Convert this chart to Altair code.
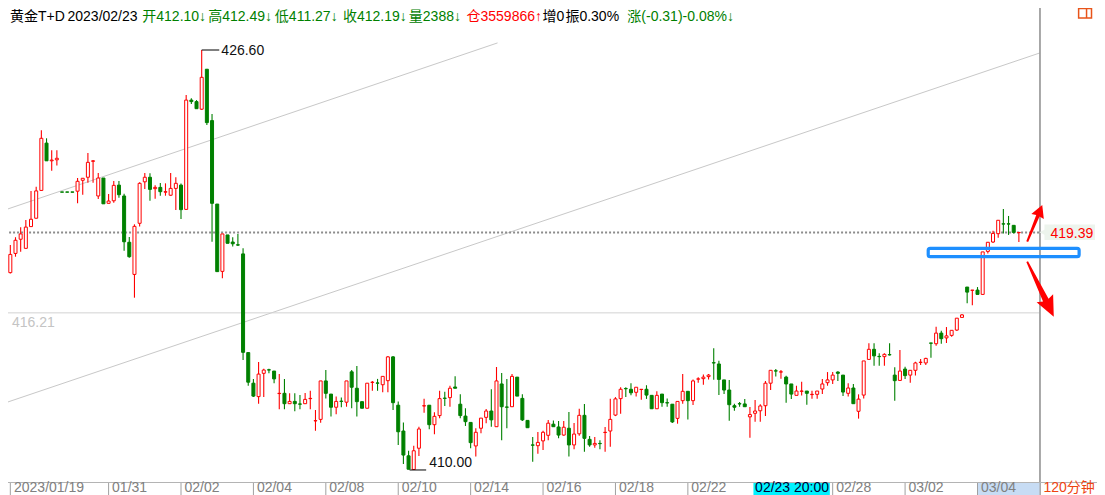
import altair as alt
import numpy as np
import pandas as pd

# ---------------- data ----------------
opens = [417.80, 418.56, 419.12, 418.76, 419.62, 419.95, 421.05, 422.92, 422.22, 422.26,
         420.99, 420.99, 420.99, 421.02, 421.45, 421.57, 422.20, 420.83, 421.54, 420.54,
         420.64, 421.26, 420.83, 419.00, 417.73, 419.75, 421.39, 421.57, 421.12, 421.17,
         420.98, 420.86, 421.13, 421.26, 420.30, 424.62, 424.56, 424.26, 425.84, 423.81,
         420.51, 417.85, 419.29, 419.01, 418.90, 418.54, 414.64, 413.43, 412.90, 413.82,
         413.96, 413.91, 413.02, 413.03, 412.62, 412.71, 412.61, 412.62, 412.82, 411.94,
         412.00, 413.52, 413.00, 412.48, 412.72, 412.68, 413.88, 413.23, 412.70, 412.44,
         413.46, 413.44, 413.37, 413.53, 414.47, 412.56, 411.54, 410.56, 410.02, 410.86,
         412.53, 412.56, 411.79, 412.15, 412.84, 412.86, 413.28, 412.60, 412.13, 411.88,
         410.95, 411.65, 412.08, 412.33, 411.71, 413.40, 412.49, 412.50, 413.67, 412.83,
         411.96, 410.99, 410.96, 411.15, 411.37, 411.81, 411.70, 411.38, 411.65, 410.99,
         411.43, 412.16, 411.21, 410.99, 411.05, 411.48, 411.54, 412.17, 412.82, 413.22,
         413.19, 413.07, 413.18, 413.19, 412.95, 412.42, 413.00, 412.66, 412.60, 412.04,
         412.74, 413.11, 412.74, 413.59, 413.61, 413.69, 414.24, 414.19, 413.56, 413.16,
         412.54, 412.62, 412.61, 412.10, 412.24, 412.34, 412.54, 413.43, 413.92, 413.87,
         413.67, 413.40, 412.95, 413.11, 413.12, 412.98, 412.99, 413.20, 413.45, 413.56,
         413.87, 413.75, 413.03, 413.24, 412.32, 412.96, 414.37, 414.77, 414.49, 414.48,
         414.56, 413.75, 413.54, 413.99, 413.75, 413.94, 414.25, 414.23, 415.02, 414.99,
         415.41, 415.22, 415.32, 415.53, 416.03, 417.23, 417.10, 417.11, 416.94, 418.64,
         419.01, 419.34, 419.73, 419.73, 419.67, 419.38]
highs = [418.89, 419.20, 419.59, 419.88, 421.03, 421.19, 423.43, 423.11, 422.64, 422.64,
         420.99, 420.99, 420.99, 421.54, 421.53, 422.53, 422.25, 421.74, 421.54, 420.91,
         421.42, 421.42, 420.92, 419.21, 419.71, 421.37, 421.74, 421.73, 421.25, 421.34,
         421.33, 421.74, 421.57, 421.32, 424.82, 424.69, 424.62, 426.60, 425.84, 424.07,
         420.51, 419.33, 419.29, 419.20, 419.33, 418.76, 414.64, 413.60, 414.27, 414.00,
         414.00, 413.91, 413.79, 413.60, 413.03, 413.03, 412.96, 413.04, 413.13, 412.37,
         413.52, 413.95, 413.00, 412.90, 412.86, 413.52, 413.95, 414.11, 412.70, 413.43,
         413.52, 413.60, 413.70, 414.51, 414.51, 412.71, 411.88, 410.76, 410.96, 411.71,
         412.82, 412.56, 412.28, 413.13, 413.09, 413.33, 413.70, 412.99, 412.44, 411.88,
         411.65, 412.05, 412.41, 413.19, 414.07, 413.83, 413.60, 413.79, 413.67, 412.99,
         411.96, 411.30, 411.50, 411.55, 411.98, 411.96, 411.94, 411.94, 412.29, 411.86,
         412.42, 412.61, 411.34, 411.30, 411.18, 411.70, 412.82, 412.88, 413.27, 413.27,
         413.43, 413.27, 413.19, 413.35, 412.95, 413.11, 413.00, 412.83, 412.60, 412.71,
         413.79, 413.11, 413.58, 413.67, 413.77, 413.79, 414.81, 414.32, 413.56, 413.56,
         412.62, 412.69, 412.81, 412.49, 412.77, 412.60, 413.52, 413.94, 413.99, 413.95,
         413.72, 413.40, 413.33, 413.49, 413.12, 413.13, 413.12, 413.60, 413.87, 413.87,
         413.90, 413.75, 413.43, 413.40, 412.99, 414.31, 415.01, 415.01, 414.61, 414.61,
         415.01, 414.06, 414.74, 414.08, 413.94, 414.28, 414.39, 414.44, 415.02, 415.66,
         415.50, 415.65, 415.52, 416.00, 416.17, 417.23, 417.11, 417.23, 418.62, 419.00,
         419.46, 419.87, 420.32, 420.04, 419.67, 419.39]
lows = [417.77, 418.43, 418.63, 418.76, 419.62, 419.95, 421.05, 422.22, 421.83, 422.03,
        420.98, 420.98, 420.98, 420.54, 420.88, 421.35, 421.35, 420.71, 420.52, 420.54,
        420.56, 420.76, 418.67, 418.39, 416.81, 419.62, 421.11, 420.64, 420.72, 420.84,
        420.84, 420.84, 420.28, 419.92, 420.30, 424.47, 424.28, 424.23, 423.64, 419.02,
        417.84, 417.58, 418.96, 418.83, 418.85, 414.35, 413.33, 412.88, 412.62, 412.88,
        413.82, 413.43, 412.40, 412.40, 412.62, 412.32, 412.40, 412.62, 412.40, 411.55,
        411.87, 412.83, 412.11, 412.20, 412.48, 412.50, 412.44, 412.11, 412.44, 412.44,
        413.13, 413.13, 413.07, 413.07, 412.37, 410.99, 410.24, 410.03, 410.00, 410.55,
        412.26, 411.61, 411.41, 412.04, 412.53, 412.50, 413.23, 412.04, 411.74, 410.86,
        410.53, 411.45, 411.85, 411.71, 411.71, 411.18, 411.65, 412.50, 412.92, 411.94,
        411.67, 410.33, 410.64, 410.79, 411.18, 411.71, 411.25, 411.35, 410.53, 410.82,
        411.35, 410.72, 410.92, 410.88, 410.82, 410.72, 410.92, 412.13, 412.22, 412.88,
        412.95, 412.90, 412.78, 412.81, 412.42, 412.42, 412.50, 412.50, 411.86, 411.83,
        412.62, 412.00, 412.57, 413.45, 413.37, 413.58, 413.57, 412.96, 413.00, 411.95,
        412.34, 412.50, 412.50, 411.27, 411.91, 411.91, 412.13, 413.16, 413.69, 413.61,
        412.66, 412.81, 412.95, 412.94, 412.58, 412.82, 412.82, 413.00, 413.33, 413.40,
        413.52, 412.92, 412.90, 412.62, 412.03, 412.83, 414.37, 414.12, 414.12, 414.12,
        414.52, 412.74, 413.54, 413.60, 413.45, 413.73, 414.15, 414.15, 414.44, 414.91,
        414.99, 415.02, 415.27, 415.49, 416.03, 416.59, 416.51, 416.94, 416.94, 418.56,
        418.97, 419.18, 419.35, 419.29, 419.35, 419.01]
closes = [418.52, 419.08, 419.33, 419.60, 419.91, 421.03, 423.11, 422.22, 422.25, 422.32,
          420.98, 420.98, 420.98, 421.41, 421.53, 422.16, 422.22, 421.54, 420.52, 420.63,
          421.25, 420.88, 419.02, 418.43, 419.63, 421.33, 421.57, 421.09, 421.17, 421.00,
          421.00, 421.13, 421.33, 420.29, 424.62, 424.56, 424.28, 425.52, 423.73, 420.54,
          417.84, 419.33, 418.96, 418.94, 418.89, 414.65, 413.47, 412.92, 413.79, 413.95,
          413.95, 413.60, 413.03, 412.62, 412.71, 412.62, 412.60, 412.79, 412.83, 411.95,
          413.52, 413.03, 412.48, 412.71, 412.71, 413.52, 413.27, 412.70, 412.44, 413.43,
          413.47, 413.43, 413.70, 414.47, 412.66, 411.51, 410.59, 410.03, 410.76, 411.62,
          412.54, 411.79, 412.12, 412.82, 412.83, 413.23, 413.23, 412.15, 411.91, 411.08,
          411.49, 412.05, 412.33, 411.98, 413.52, 412.50, 412.48, 413.70, 412.92, 411.98,
          411.67, 410.98, 411.09, 411.49, 411.85, 411.71, 411.38, 411.69, 410.99, 411.42,
          412.16, 411.25, 410.99, 411.05, 411.04, 411.49, 412.00, 412.81, 413.19, 413.21,
          413.05, 413.27, 413.19, 412.96, 412.42, 412.95, 412.66, 412.65, 411.90, 412.71,
          413.11, 412.74, 413.52, 413.60, 413.67, 413.75, 414.23, 413.58, 413.16, 412.58,
          412.48, 412.61, 412.50, 412.19, 412.33, 412.53, 413.43, 413.94, 413.91, 413.88,
          413.40, 413.00, 413.12, 413.12, 413.03, 412.99, 413.12, 413.40, 413.56, 413.75,
          413.82, 413.08, 413.24, 412.62, 412.80, 414.31, 414.77, 414.51, 414.48, 414.57,
          414.55, 413.53, 413.91, 413.73, 413.94, 414.23, 414.26, 414.41, 415.01, 415.41,
          415.19, 415.30, 415.52, 416.00, 416.13, 417.03, 417.11, 416.94, 418.62, 419.00,
          419.35, 419.87, 419.72, 419.72, 419.39, 419.39]

tick_idx = [0, 19, 33, 47, 61, 75, 89, 103, 117, 131, 159, 173, 187]
tick_text = ["2023/01/19", "01/31", "02/02", "02/04", "02/08", "02/10", "02/14",
             "02/16", "02/18", "02/22", "02/28", "03/02", "03/04"]
cursor_idx = 143
cursor_text = "02/23 20:00"
last_price = 419.39
ref_price = 416.21
high_idx, high_val = 37, 426.60
low_idx, low_val = 78, 410.00
trend_a = [(-1.02, 420.28), (94.2, 426.88)]
trend_b = [(-1.02, 412.65), (199.0, 426.48)]
header_text = ["黄金T+D", "2023/02/23", "开412.10↓", "高412.49↓", "低411.27↓", "收412.19↓",
               "量2388↓", "仓3559866↑", "增0", "振0.30%", "涨(-0.31)-0.08%↓"]
period_text = "120分钟"

# ---------------- layout (pixel geometry of the reference window) ----------------
# The page has an 8px margin, so the drawing shows the window region x 8..1097, y 8..495.
VX0, VX1, VY0, VY1 = 8, 1097, 8, 495
W, H = VX1 - VX0, VY1 - VY0
PX0, STEP = 5.3, 5.22            # x of first candle, candle spacing
PPU = 25.3                       # pixels per price unit
P_TOP = 426.6 + 50 / PPU         # price at the window's top edge


def xi(px):
    return (px - PX0) / STEP


def yp(py):
    return P_TOP - py / PPU


XS = alt.Scale(domain=[xi(VX0), xi(VX1)], nice=False, zero=False)
YS = alt.Scale(domain=[yp(VY1), yp(VY0)], nice=False, zero=False)
FONT = "Liberation Sans, Noto Sans CJK SC, sans-serif"
RED, GREEN = "#ff0000", "#008000"


def X(f="x"):
    return alt.X(f"{f}:Q", scale=XS, axis=None)


def Y(f="p"):
    return alt.Y(f"{f}:Q", scale=YS, axis=None)


def segs(rows, **mk):
    df = pd.DataFrame(rows, columns=["x", "p", "x2", "p2"])
    return alt.Chart(df).mark_rule(**mk).encode(x=X(), y=Y(), x2="x2:Q", y2="p2:Q")


def texts(rows, **mk):
    df = pd.DataFrame(rows, columns=["x", "p", "t"])
    base = dict(align="left", baseline="alphabetic", font=FONT, fontSize=14)
    base.update(mk)
    return alt.Chart(df).mark_text(**base).encode(x=X(), y=Y(), text="t:N")


def box(x1, y1, x2, y2, **mk):
    df = pd.DataFrame({"x": [xi(x1)], "x2": [xi(x2)], "p": [yp(y1)], "p2": [yp(y2)]})
    return alt.Chart(df).mark_rect(**mk).encode(x=X(), x2="x2:Q", y=Y(), y2="p2:Q")


def symbol(px, py, **mk):
    df = pd.DataFrame({"x": [xi(px)], "p": [yp(py)]})
    return alt.Chart(df).mark_point(filled=True, opacity=1, strokeWidth=0, **mk).encode(x=X(), y=Y())


layers = []

# trend channel, reference lines
layers.append(segs([(trend_a[0][0], trend_a[0][1], trend_a[1][0], trend_a[1][1]),
                    (trend_b[0][0], trend_b[0][1], trend_b[1][0], trend_b[1][1])],
                   color="#c8c8c8", strokeWidth=1))
layers.append(segs([(xi(0), ref_price, xi(1044), ref_price)], color="#d2d2d2", strokeWidth=1))
layers.append(texts([(xi(7), yp(327), f"{ref_price:.2f}")], color="#c4c4c4"))
layers.append(segs([(xi(0), last_price, xi(1044), last_price)], color="#8c8c8c",
                   strokeWidth=2, strokeDash=[2, 2]))

# candles
candles = pd.DataFrame({"i": np.arange(len(opens)), "o": opens, "h": highs, "l": lows, "c": closes})
candles["dir"] = np.where(candles["c"] > candles["o"], "up", "down")
stroke_scale = alt.Scale(domain=["up", "down"], range=[RED, GREEN])
fill_scale = alt.Scale(domain=["up", "down"], range=["#ffffff", GREEN])
layers.append(alt.Chart(candles).mark_rule(strokeWidth=1.1).encode(
    x=X("i"), y=Y("l"), y2="h:Q",
    stroke=alt.Stroke("dir:N", scale=stroke_scale, legend=None)))
layers.append(alt.Chart(candles).mark_bar(size=3, strokeWidth=1).encode(
    x=X("i"), y=Y("o"), y2="c:Q",
    fill=alt.Fill("dir:N", scale=fill_scale, legend=None),
    stroke=alt.Stroke("dir:N", scale=stroke_scale, legend=None)))

# extreme labels
layers.append(segs([(high_idx, high_val, high_idx + 3.4, high_val),
                    (low_idx - 0.8, low_val, low_idx + 2.4, low_val)], color="#000000", strokeWidth=1))
layers.append(texts([(high_idx + 3.8, yp(55), f"{high_val:.2f}"),
                     (low_idx + 3.0, yp(467), f"{low_val:.2f}")], color="#111111"))

# right border and side panel
layers.append(segs([(xi(1044.5), yp(0), xi(1044.5), yp(500))], color="#8c8c8c", strokeWidth=1.5))
layers.append(segs([(xi(0), yp(482.5), xi(1110), yp(482.5))], color="#b4b4b4", strokeWidth=1))
layers.append(box(1083.5, 8.5, 1096.5, 18, fillOpacity=0, stroke="#e8541a", strokeWidth=1.5))
layers.append(segs([(xi(1091.5), yp(8.5), xi(1091.5), yp(18))], color="#e8541a", strokeWidth=1.5))

# last price tag
layers.append(box(1049, 224.5, 1100, 240, fill="#edf4ed"))
layers.append(symbol(1051.75, 232.3, shape="M-1,0 L1,-1 L1,1 Z", size=240, fill="#edf4ed"))
layers.append(texts([(xi(1055), yp(237.5), f"{last_price:.2f}")], color=RED))

# hand-drawn annotations
layers.append(box(931.7, 248.3, 1084, 256.7, fillOpacity=0, stroke="#1e8fff",
                  strokeWidth=3.2, cornerRadius=2))
layers.append(symbol(1039.2, 223.4, shape="M0,-1 L0.34,-0.38 L0.09,-0.42 L0.05,1 L-0.05,1 L-0.09,-0.42 L-0.34,-0.38 Z",
                     size=1568, angle=22.3, fill=RED))
layers.append(symbol(1045.0, 289.2, shape="M0,-1 L0.3,-0.33 L0.1,-0.4 L0.03,1 L-0.03,1 L-0.1,-0.4 L-0.3,-0.33 Z",
                     size=3733, angle=154.2, fill=RED))

# time axis strip
layers.append(box(755.3, 483, 832.4, 500, fill="#00f2ff"))
layers.append(box(981.6, 483, 1044, 500, fill="#c7dcf4"))
layers.append(segs([(i, yp(483), i, yp(500)) for i in tick_idx], color="#a0a0a0", strokeWidth=1))
layers.append(texts([(max(i + 0.67, xi(9)), yp(495), t) for i, t in zip(tick_idx, tick_text)],
                    color="#808080", baseline="bottom"))
layers.append(texts([(cursor_idx + 1.0, yp(495), cursor_text)], color="#000033", baseline="bottom"))
layers.append(texts([(xi(1048), yp(495), period_text)], color="#ee4410", baseline="bottom"))

# header line
header_x = [5, 63, 138.5, 205, 272.3, 341, 407.5, 465.7, 542.5, 565.5, 628]
header_col = ["#000000", "#000000", GREEN, GREEN, GREEN, GREEN, GREEN, RED, "#000000", "#000000", GREEN]
hdr = pd.DataFrame({"x": [xi(v) for v in header_x], "p": [yp(21)] * len(header_x),
                    "t": header_text, "col": header_col})
layers.append(alt.Chart(hdr).mark_text(align="left", baseline="alphabetic", font=FONT, fontSize=14).encode(
    x=X(), y=Y(), text="t:N", color=alt.Color("col:N", scale=None)))

chart = alt.layer(*layers).properties(
    width=W, height=H,
    autosize=alt.AutoSizeParams(type="none"),
    padding=0,
    background="white",
).configure_view(strokeWidth=0)

chart.save("out.html", embed_options={"renderer": "svg", "actions": False})
